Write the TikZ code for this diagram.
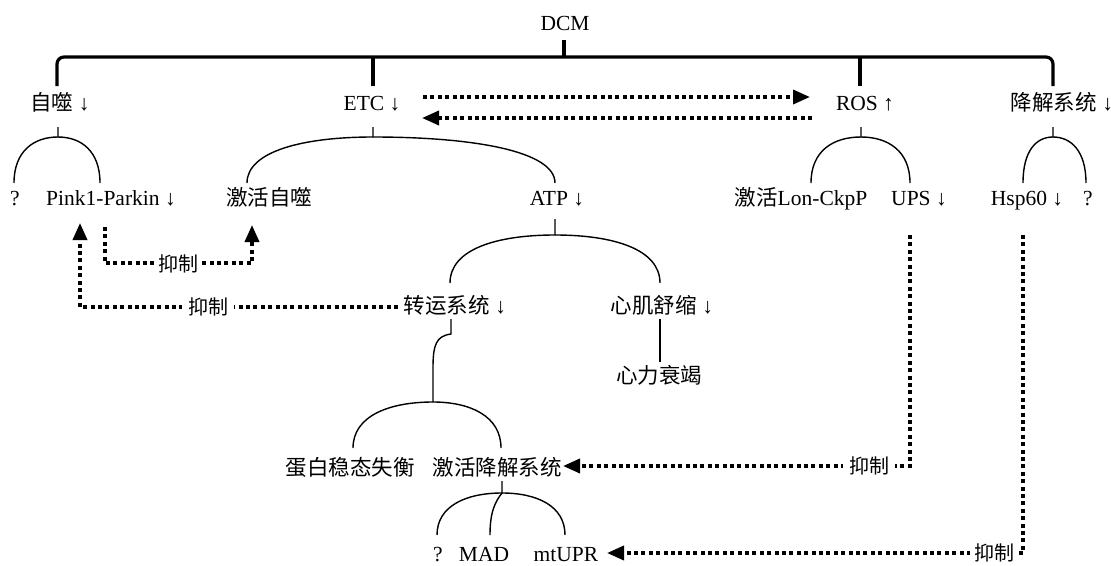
\documentclass[tikz,border=0pt]{standalone}
\usepackage{fontspec}
\setmainfont{Liberation Serif}
\newfontfamily\cjk{Noto Sans CJK SC}
\usetikzlibrary{arrows.meta}
\begin{document}
\begin{tikzpicture}[x=1pt,y=-1pt,
  lab/.style={anchor=base,inner sep=0pt,font=\fontsize{21.5pt}{25pt}\selectfont},
  inh/.style={fill=white,inner ysep=1pt,inner xsep=6pt,font=\fontsize{20pt}{24pt}\selectfont\cjk},
  bar/.style={line width=3.2pt},
  tree/.style={line width=1.4pt},
  dotline/.style={line width=3.6pt,dash pattern=on 4pt off 3.4pt},
  tip/.style={-{Triangle[length=17pt,width=14pt]}}]
\useasboundingbox (0,0) rectangle (1111,565);
% labels
\node[lab] (dcm) at (565,30) {DCM};
\node[lab] (zs) at (60,110) {{\cjk 自噬} ↓};
\node[lab] (etc) at (372,110) {ETC ↓};
\node[lab] (ros) at (865,110) {ROS ↑};
\node[lab] (jj) at (1062,110) {{\cjk 降解系统} ↓};
\node[lab] (q1) at (15,205) {?};
\node[lab] (pink) at (111,205) {Pink1-Parkin ↓};
\node[lab] (jhzs) at (269,205) {\cjk 激活自噬};
\node[lab] (atp) at (557,205) {ATP ↓};
\node[lab] (lon) at (801,205) {{\cjk 激活}Lon-CkpP};
\node[lab] (ups) at (919,205) {UPS ↓};
\node[lab] (hsp) at (1027,205) {Hsp60 ↓};
\node[lab] (q2) at (1088,205) {?};
\node[lab] (zy) at (455,313) {{\cjk 转运系统} ↓};
\node[lab] (xj) at (662,313) {{\cjk 心肌舒缩} ↓};
\node[lab] (xl) at (659,383) {\cjk 心力衰竭};
\node[lab] (db) at (350,475) {\cjk 蛋白稳态失衡};
\node[lab] (jhjj) at (497,475) {\cjk 激活降解系统};
\node[lab] (q3) at (438,561) {?};
\node[lab] (mad) at (484,561) {MAD};
\node[lab] (mt) at (566,561) {mtUPR};
% top bar
\coordinate (top) at (564,40);
\coordinate (zsT) at (57,86);
\coordinate (etcT) at (373,86);
\coordinate (rosT) at (860,86);
\coordinate (jjT) at (1053,86);
\draw[bar] (top) -- (564,57);
\draw[bar,rounded corners=7pt] (zsT) |- (jjT |- 0,57) -- (jjT);
\draw[bar] (etcT) -- (373,57);
\draw[bar] (rosT) -- (860,57);
% tree lines
\draw[tree] (58,127) -- (58,137) .. controls (34,137) and (14,151) .. (14,183);
\draw[tree] (58,137) .. controls (81,137) and (100,151) .. (100,183);
\draw[tree] (373,127) -- (373,137) .. controls (304,137) and (247,151) .. (247,183);
\draw[tree] (373,137) .. controls (473,137) and (555,151) .. (555,183);
\draw[tree] (861,127) -- (861,137) .. controls (833,137) and (811,151) .. (811,183);
\draw[tree] (861,137) .. controls (888,137) and (910,151) .. (910,183);
\draw[tree] (1053,127) -- (1053,137) .. controls (1036,137) and (1023,151) .. (1023,183);
\draw[tree] (1053,137) .. controls (1071,137) and (1086,151) .. (1086,183);
\draw[tree] (555,219) -- (555,235) .. controls (497,235) and (450,249) .. (450,283);
\draw[tree] (555,235) .. controls (613,235) and (660,249) .. (660,283);
\draw[tree] (660,319) -- (660,362);
\draw[tree] (451,319) -- (451,334) .. controls (436,336) and (433,345) .. (433,368) -- (433,402);
\draw[tree] (433,402) .. controls (389,402) and (353,416) .. (353,448);
\draw[tree] (433,402) .. controls (470,402) and (501,416) .. (501,448);
\draw[tree] (502,481) -- (502,493) .. controls (466,493) and (437,506) .. (437,535);
\draw[tree] (502,493) .. controls (537,493) and (565,506) .. (565,535);
\draw[tree] (502,493) .. controls (495,502) and (490,512) .. (490,535);
% dotted arrows
\coordinate (a1s) at (423,97);  \coordinate (a1e) at (810,97);
\coordinate (a2s) at (812,118); \coordinate (a2e) at (422,118);
\draw[dotline,tip] (a1s) -- (a1e);
\draw[dotline,tip] (a2s) -- (a2e);
\coordinate (p1s) at (105,227); \coordinate (p1e) at (252,225);
\draw[dotline,tip] (p1s) -- (105,263) -- (252,263) -- (p1e);
\node[inh,inner xsep=1pt] (i1) at (178,264) {抑制};
\coordinate (p2s) at (398,307); \coordinate (p2e) at (80,223);
\draw[dotline,tip] (p2s) -- (80,307) -- (p2e);
\node[inh] (i2) at (208,307) {抑制};
\coordinate (p3s) at (910,235); \coordinate (p3e) at (563,466);
\draw[dotline,tip] (p3s) -- (910,466) -- (p3e);
\node[inh] (i3) at (869,466) {抑制};
\coordinate (p4s) at (1023,235); \coordinate (p4e) at (607,553);
\draw[dotline,tip] (p4s) -- (1023,553) -- (p4e);
\node[inh,inner xsep=4pt] (i4) at (994,553) {抑制};
\end{tikzpicture}
\end{document}
